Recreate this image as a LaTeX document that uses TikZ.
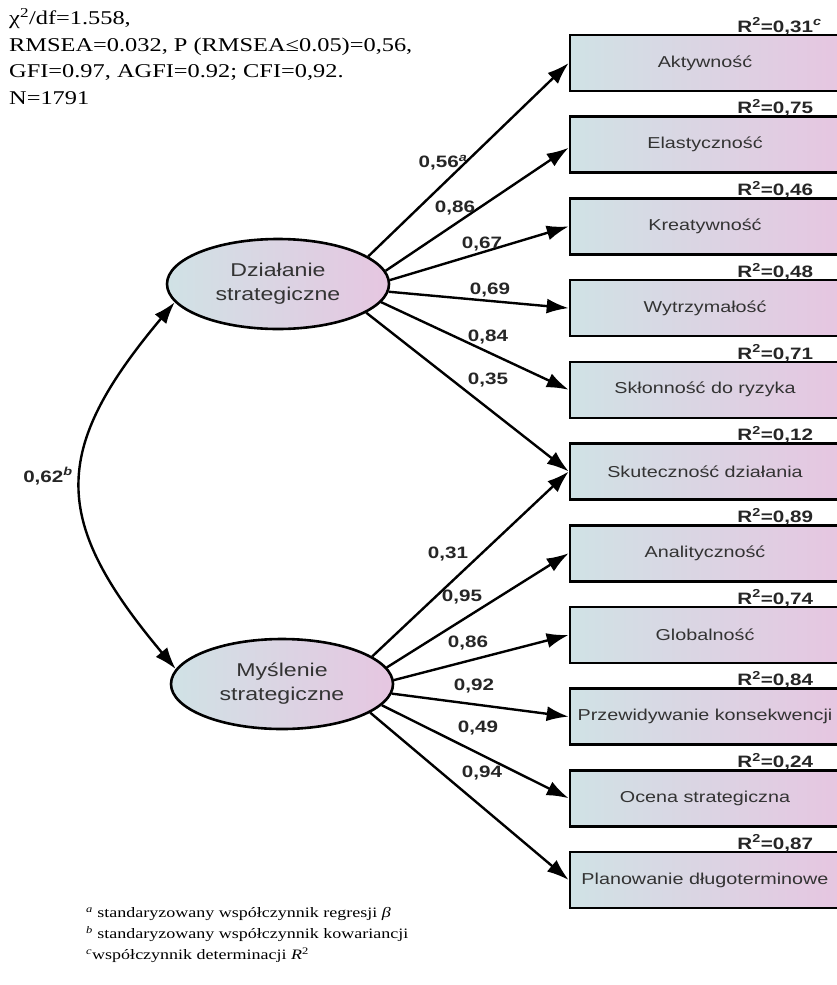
\documentclass[tikz,border=0pt]{standalone}
\usepackage{fontspec}
\setmainfont[FakeStretch=1.25]{Liberation Serif}
\newfontfamily\diagfont[FakeStretch=1.25]{Liberation Sans}
\definecolor{box left}{HTML}{D0E2E5}
\definecolor{box right}{HTML}{E6C6E1}
\definecolor{text gray}{HTML}{333333}
\usetikzlibrary{positioning,arrows.meta,shapes.geometric,calc}
\tikzstyle{line} = [line width=2.4pt]
\tikzstyle{line>} = [line,-{Latex[length=22pt, width=15pt]}]
\tikzstyle{<line>} = [line,{Latex[length=22pt, width=15pt]}-{Latex[length=22pt, width=15pt]}]
\tikzstyle{var node}=[draw, line width=2.6pt, rectangle, minimum width=270pt, minimum height=56pt, left color=box left, right color=box right, text=text gray, font=\diagfont\fontsize{15.8}{19}\selectfont]
\tikzstyle{latent node}=[draw, line width=2.6pt, ellipse, minimum width=222pt, minimum height=90pt, inner sep=0pt, left color=box left, right color=box right, text=text gray, align=center, font=\diagfont\fontsize{18.5}{24}\selectfont]
\tikzstyle{coef}=[inner sep=0pt, text=black!85, font=\diagfont\bfseries\fontsize{16.5}{19}\selectfont]
\tikzstyle{rsq}=[coef, anchor=base east]

\begin{document}
\begin{tikzpicture}[x=1pt,y=-1pt]
        \useasboundingbox (0,0) rectangle (837,985);
        \def\boxX{705}
        \node[var node] (akt) at (\boxX,63) {Aktywność};
        \node[var node] (ela) at (\boxX,144.7) {Elastyczność};
        \node[var node] (kre) at (\boxX,226.4) {Kreatywność};
        \node[var node] (wyt) at (\boxX,308.1) {Wytrzymałość};
        \node[var node] (skl) at (\boxX,389.8) {Skłonność do ryzyka};
        \node[var node] (sku) at (\boxX,471.5) {Skuteczność działania};
        \node[var node] (ana) at (\boxX,553.2) {Analityczność};
        \node[var node] (glo) at (\boxX,634.9) {Globalność};
        \node[var node] (prz) at (\boxX,716.6) {Przewidywanie konsekwencji};
        \node[var node] (oce) at (\boxX,798.3) {Ocena strategiczna};
        \node[var node] (pla) at (\boxX,880) {Planowanie długoterminowe};

        \node[latent node] (dz) at (278,284) {Działanie\\strategiczne};
        \node[latent node] (my) at (282,684) {Myślenie\\strategiczne};

        \node[rsq] (r-akt) at ([shift={(-28,-1.5)}]akt.north east) {R\textsuperscript{2}=0,31\rlap{\textsuperscript{\itshape c}}};
        \node[rsq] (r-ela) at ([shift={(-28,-1.5)}]ela.north east) {R\textsuperscript{2}=0,75};
        \node[rsq] (r-kre) at ([shift={(-28,-1.5)}]kre.north east) {R\textsuperscript{2}=0,46};
        \node[rsq] (r-wyt) at ([shift={(-28,-1.5)}]wyt.north east) {R\textsuperscript{2}=0,48};
        \node[rsq] (r-skl) at ([shift={(-28,-1.5)}]skl.north east) {R\textsuperscript{2}=0,71};
        \node[rsq] (r-sku) at ([shift={(-28,-1.5)}]sku.north east) {R\textsuperscript{2}=0,12};
        \node[rsq] (r-ana) at ([shift={(-28,-1.5)}]ana.north east) {R\textsuperscript{2}=0,89};
        \node[rsq] (r-glo) at ([shift={(-28,-1.5)}]glo.north east) {R\textsuperscript{2}=0,74};
        \node[rsq] (r-prz) at ([shift={(-28,-1.5)}]prz.north east) {R\textsuperscript{2}=0,84};
        \node[rsq] (r-oce) at ([shift={(-28,-1.5)}]oce.north east) {R\textsuperscript{2}=0,24};
        \node[rsq] (r-pla) at ([shift={(-28,-1.5)}]pla.north east) {R\textsuperscript{2}=0,87};

        \draw[line>] (dz.17) -- (akt.west);
        \draw[line>] (dz.7) -- ([yshift=-3pt]ela.west);
        \draw[line>] (dz.2) -- (kre.west);
        \draw[line>] (dz.-4) -- (wyt.west);
        \draw[line>] (dz.-10) -- (skl.west);
        \draw[line>] (dz.-18) -- (sku.west);

        \draw[line>] (my.17) -- (sku.west);
        \draw[line>] (my.9) -- (ana.west);
        \draw[line>] (my.2) -- (glo.west);
        \draw[line>] (my.-5) -- (prz.west);
        \draw[line>] (my.-12) -- (oce.west);
        \draw[line>] (my.-18) -- (pla.west);

        \draw[<line>] (dz.190) to[out=230,in=130,looseness=1.35] (my.172);

        % coefficients
        \node[coef] (b-akt) at (443,163) {0,56\textsuperscript{\itshape a}};
        \node[coef] (b-ela) at (455,208) {0,86};
        \node[coef] (b-kre) at (482,244) {0,67};
        \node[coef] (b-wyt) at (490,290) {0,69};
        \node[coef] (b-skl) at (488,337) {0,84};
        \node[coef] (b-sku) at (488,380) {0,35};
        \node[coef] (g-sku) at (448,554) {0,31};
        \node[coef] (g-ana) at (462,597) {0,95};
        \node[coef] (g-glo) at (468,643) {0,86};
        \node[coef] (g-prz) at (474,686) {0,92};
        \node[coef] (g-oce) at (478,728) {0,49};
        \node[coef] (g-pla) at (482,773) {0,94};
        \node[coef] (cov) at (48,476) {0,62\textsuperscript{\itshape b}};

        \node[anchor=north west, align=left, inner sep=0pt, font=\fontsize{19.5}{26.5}\selectfont] (fit) at (9,8)
            {χ\textsuperscript{2}/df=1.558,\\RMSEA=0.032, P (RMSEA≤0.05)=0,56,\\GFI=0.97, AGFI=0.92; CFI=0,92.\\N=1791};
        \node[anchor=north west, align=left, inner sep=0pt, font=\fontsize{14.4}{21}\selectfont] (notes) at (86,907)
            {\textsuperscript{\itshape a} standaryzowany współczynnik regresji \textit{β}\\
             \textsuperscript{\itshape b} standaryzowany współczynnik kowariancji\\
             \textsuperscript{\itshape c}współczynnik determinacji \textit{R}\textsuperscript{2}};
    \end{tikzpicture}
\end{document}
